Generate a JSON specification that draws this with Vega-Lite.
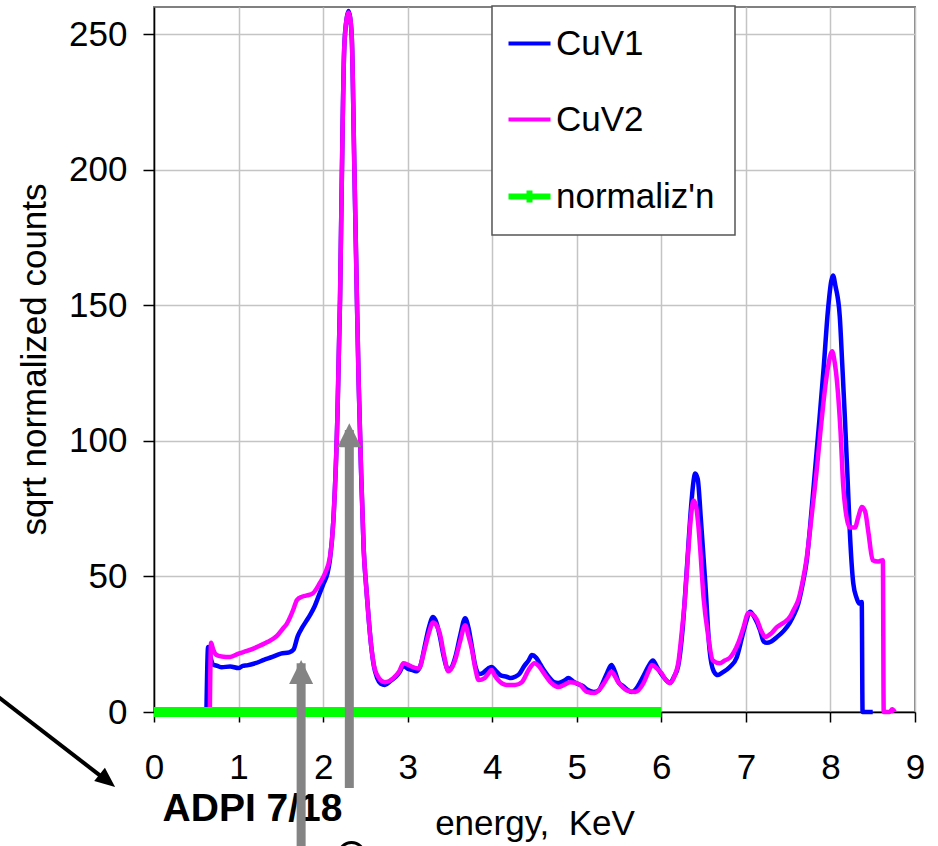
{
  "$schema": "https://vega.github.io/schema/vega-lite/v6.json",
  "width": 761,
  "height": 705,
  "autosize": {"type": "none"},
  "padding": {"left": 154, "top": 7, "right": 23, "bottom": 134},
  "background": "white",
  "config": {
    "font": "Liberation Sans",
    "view": {"stroke": "#808080", "strokeWidth": 2},
    "axis": {
      "labelFont": "Liberation Sans",
      "titleFont": "Liberation Sans",
      "labelFontSize": 35,
      "titleFontSize": 35,
      "labelColor": "black",
      "titleColor": "black",
      "titleFontWeight": "normal",
      "domainColor": "black",
      "domainWidth": 1.5,
      "tickColor": "black",
      "tickWidth": 1.5,
      "gridColor": "#c4c4c4",
      "gridWidth": 1.5,
      "gridOpacity": 1,
      "labelFlush": false
    },
    "legend": {
      "labelFont": "Liberation Sans",
      "labelFontSize": 35,
      "labelColor": "black"
    }
  },
  "datasets": {
    "cuv1": [
      {"E":0.62,"v":0,"series":"CuV1"},{"E":0.64,"v":24,"series":"CuV1"},{"E":0.67,"v":20,"series":"CuV1"},{"E":0.70,"v":17.5,"series":"CuV1"},{"E":0.75,"v":17,"series":"CuV1"},{"E":0.80,"v":16.5,"series":"CuV1"},{"E":0.90,"v":16.8,"series":"CuV1"},{"E":1.00,"v":16.2,"series":"CuV1"},{"E":1.05,"v":17,"series":"CuV1"},{"E":1.10,"v":17.2,"series":"CuV1"},{"E":1.20,"v":18,"series":"CuV1"},{"E":1.30,"v":19.2,"series":"CuV1"},{"E":1.40,"v":20.3,"series":"CuV1"},{"E":1.50,"v":21.5,"series":"CuV1"},{"E":1.60,"v":22,"series":"CuV1"},{"E":1.65,"v":23,"series":"CuV1"},{"E":1.70,"v":28,"series":"CuV1"},{"E":1.75,"v":31,"series":"CuV1"},{"E":1.80,"v":33.5,"series":"CuV1"},{"E":1.85,"v":36,"series":"CuV1"},{"E":1.90,"v":39,"series":"CuV1"},{"E":1.95,"v":43,"series":"CuV1"},{"E":2.00,"v":47,"series":"CuV1"},{"E":2.05,"v":51,"series":"CuV1"},{"E":2.08,"v":56,"series":"CuV1"},{"E":2.12,"v":70,"series":"CuV1"},{"E":2.17,"v":110,"series":"CuV1"},{"E":2.20,"v":152,"series":"CuV1"},{"E":2.23,"v":215,"series":"CuV1"},{"E":2.25,"v":245,"series":"CuV1"},{"E":2.28,"v":256,"series":"CuV1"},{"E":2.30,"v":258.5,"series":"CuV1"},{"E":2.32,"v":256,"series":"CuV1"},{"E":2.34,"v":248,"series":"CuV1"},{"E":2.37,"v":200,"series":"CuV1"},{"E":2.40,"v":152,"series":"CuV1"},{"E":2.42,"v":122,"series":"CuV1"},{"E":2.45,"v":88,"series":"CuV1"},{"E":2.48,"v":60,"series":"CuV1"},{"E":2.51,"v":46,"series":"CuV1"},{"E":2.54,"v":34,"series":"CuV1"},{"E":2.57,"v":24,"series":"CuV1"},{"E":2.60,"v":17,"series":"CuV1"},{"E":2.64,"v":12.5,"series":"CuV1"},{"E":2.68,"v":10.5,"series":"CuV1"},{"E":2.73,"v":10,"series":"CuV1"},{"E":2.80,"v":11.5,"series":"CuV1"},{"E":2.86,"v":13,"series":"CuV1"},{"E":2.90,"v":14.5,"series":"CuV1"},{"E":2.95,"v":17,"series":"CuV1"},{"E":3.00,"v":16,"series":"CuV1"},{"E":3.05,"v":15.5,"series":"CuV1"},{"E":3.10,"v":15,"series":"CuV1"},{"E":3.15,"v":17,"series":"CuV1"},{"E":3.20,"v":24,"series":"CuV1"},{"E":3.25,"v":31,"series":"CuV1"},{"E":3.30,"v":35,"series":"CuV1"},{"E":3.34,"v":33,"series":"CuV1"},{"E":3.38,"v":28,"series":"CuV1"},{"E":3.43,"v":20,"series":"CuV1"},{"E":3.48,"v":15.5,"series":"CuV1"},{"E":3.52,"v":16.5,"series":"CuV1"},{"E":3.57,"v":21,"series":"CuV1"},{"E":3.62,"v":28,"series":"CuV1"},{"E":3.68,"v":34.6,"series":"CuV1"},{"E":3.72,"v":31,"series":"CuV1"},{"E":3.76,"v":24,"series":"CuV1"},{"E":3.80,"v":17,"series":"CuV1"},{"E":3.84,"v":14,"series":"CuV1"},{"E":3.89,"v":14.4,"series":"CuV1"},{"E":3.95,"v":16,"series":"CuV1"},{"E":3.99,"v":16.6,"series":"CuV1"},{"E":4.05,"v":15,"series":"CuV1"},{"E":4.10,"v":13.5,"series":"CuV1"},{"E":4.17,"v":13,"series":"CuV1"},{"E":4.22,"v":12.5,"series":"CuV1"},{"E":4.27,"v":13,"series":"CuV1"},{"E":4.32,"v":14,"series":"CuV1"},{"E":4.38,"v":17,"series":"CuV1"},{"E":4.43,"v":19,"series":"CuV1"},{"E":4.47,"v":21,"series":"CuV1"},{"E":4.52,"v":20,"series":"CuV1"},{"E":4.57,"v":17.5,"series":"CuV1"},{"E":4.62,"v":15,"series":"CuV1"},{"E":4.68,"v":12.5,"series":"CuV1"},{"E":4.73,"v":11,"series":"CuV1"},{"E":4.78,"v":10.7,"series":"CuV1"},{"E":4.85,"v":11.5,"series":"CuV1"},{"E":4.90,"v":12.5,"series":"CuV1"},{"E":4.95,"v":11.5,"series":"CuV1"},{"E":5.00,"v":10.5,"series":"CuV1"},{"E":5.07,"v":9.6,"series":"CuV1"},{"E":5.12,"v":8.3,"series":"CuV1"},{"E":5.20,"v":7.4,"series":"CuV1"},{"E":5.26,"v":8,"series":"CuV1"},{"E":5.31,"v":11,"series":"CuV1"},{"E":5.36,"v":14.5,"series":"CuV1"},{"E":5.41,"v":17.3,"series":"CuV1"},{"E":5.45,"v":15,"series":"CuV1"},{"E":5.50,"v":10.7,"series":"CuV1"},{"E":5.55,"v":9.5,"series":"CuV1"},{"E":5.60,"v":8.2,"series":"CuV1"},{"E":5.65,"v":7.4,"series":"CuV1"},{"E":5.70,"v":8.5,"series":"CuV1"},{"E":5.75,"v":11,"series":"CuV1"},{"E":5.80,"v":14,"series":"CuV1"},{"E":5.85,"v":17,"series":"CuV1"},{"E":5.90,"v":19,"series":"CuV1"},{"E":5.95,"v":16.5,"series":"CuV1"},{"E":6.00,"v":14,"series":"CuV1"},{"E":6.05,"v":12,"series":"CuV1"},{"E":6.10,"v":10.7,"series":"CuV1"},{"E":6.15,"v":13,"series":"CuV1"},{"E":6.20,"v":17,"series":"CuV1"},{"E":6.25,"v":30,"series":"CuV1"},{"E":6.30,"v":52,"series":"CuV1"},{"E":6.35,"v":75,"series":"CuV1"},{"E":6.38,"v":85,"series":"CuV1"},{"E":6.40,"v":88,"series":"CuV1"},{"E":6.43,"v":86,"series":"CuV1"},{"E":6.47,"v":70,"series":"CuV1"},{"E":6.52,"v":47.5,"series":"CuV1"},{"E":6.57,"v":23,"series":"CuV1"},{"E":6.62,"v":15,"series":"CuV1"},{"E":6.67,"v":13.6,"series":"CuV1"},{"E":6.72,"v":14.5,"series":"CuV1"},{"E":6.81,"v":16.6,"series":"CuV1"},{"E":6.89,"v":20,"series":"CuV1"},{"E":6.95,"v":27,"series":"CuV1"},{"E":7.00,"v":33,"series":"CuV1"},{"E":7.05,"v":37,"series":"CuV1"},{"E":7.10,"v":35,"series":"CuV1"},{"E":7.17,"v":30,"series":"CuV1"},{"E":7.21,"v":26,"series":"CuV1"},{"E":7.25,"v":25.5,"series":"CuV1"},{"E":7.30,"v":26,"series":"CuV1"},{"E":7.37,"v":27.7,"series":"CuV1"},{"E":7.45,"v":30,"series":"CuV1"},{"E":7.52,"v":33,"series":"CuV1"},{"E":7.57,"v":36,"series":"CuV1"},{"E":7.62,"v":40,"series":"CuV1"},{"E":7.67,"v":47,"series":"CuV1"},{"E":7.72,"v":56,"series":"CuV1"},{"E":7.77,"v":72,"series":"CuV1"},{"E":7.82,"v":90,"series":"CuV1"},{"E":7.87,"v":108,"series":"CuV1"},{"E":7.92,"v":127,"series":"CuV1"},{"E":7.97,"v":148,"series":"CuV1"},{"E":8.01,"v":159,"series":"CuV1"},{"E":8.03,"v":161,"series":"CuV1"},{"E":8.06,"v":157,"series":"CuV1"},{"E":8.11,"v":146,"series":"CuV1"},{"E":8.14,"v":128,"series":"CuV1"},{"E":8.17,"v":109,"series":"CuV1"},{"E":8.20,"v":88,"series":"CuV1"},{"E":8.23,"v":66,"series":"CuV1"},{"E":8.27,"v":47.5,"series":"CuV1"},{"E":8.31,"v":42,"series":"CuV1"},{"E":8.34,"v":40,"series":"CuV1"},{"E":8.37,"v":40.6,"series":"CuV1"},{"E":8.38,"v":0,"series":"CuV1"},{"E":8.50,"v":0,"series":"CuV1"}
    ],
    "cuv2": [
      {"E":0.66,"v":0,"series":"CuV2"},{"E":0.675,"v":25.5,"series":"CuV2"},{"E":0.70,"v":23,"series":"CuV2"},{"E":0.74,"v":21,"series":"CuV2"},{"E":0.80,"v":20.5,"series":"CuV2"},{"E":0.90,"v":20.3,"series":"CuV2"},{"E":1.00,"v":21.5,"series":"CuV2"},{"E":1.10,"v":22.5,"series":"CuV2"},{"E":1.22,"v":24,"series":"CuV2"},{"E":1.34,"v":25.8,"series":"CuV2"},{"E":1.45,"v":28,"series":"CuV2"},{"E":1.53,"v":31,"series":"CuV2"},{"E":1.57,"v":32.5,"series":"CuV2"},{"E":1.61,"v":35,"series":"CuV2"},{"E":1.65,"v":38,"series":"CuV2"},{"E":1.69,"v":41.3,"series":"CuV2"},{"E":1.75,"v":42.5,"series":"CuV2"},{"E":1.81,"v":43,"series":"CuV2"},{"E":1.88,"v":43.8,"series":"CuV2"},{"E":1.96,"v":47.5,"series":"CuV2"},{"E":2.02,"v":51,"series":"CuV2"},{"E":2.08,"v":57,"series":"CuV2"},{"E":2.12,"v":70,"series":"CuV2"},{"E":2.17,"v":110,"series":"CuV2"},{"E":2.20,"v":152,"series":"CuV2"},{"E":2.23,"v":215,"series":"CuV2"},{"E":2.25,"v":245,"series":"CuV2"},{"E":2.28,"v":256,"series":"CuV2"},{"E":2.30,"v":258,"series":"CuV2"},{"E":2.32,"v":256,"series":"CuV2"},{"E":2.34,"v":248,"series":"CuV2"},{"E":2.37,"v":200,"series":"CuV2"},{"E":2.40,"v":152,"series":"CuV2"},{"E":2.42,"v":122,"series":"CuV2"},{"E":2.45,"v":88,"series":"CuV2"},{"E":2.48,"v":60,"series":"CuV2"},{"E":2.51,"v":46,"series":"CuV2"},{"E":2.54,"v":34,"series":"CuV2"},{"E":2.57,"v":24,"series":"CuV2"},{"E":2.60,"v":17.5,"series":"CuV2"},{"E":2.65,"v":13,"series":"CuV2"},{"E":2.73,"v":11,"series":"CuV2"},{"E":2.83,"v":12.5,"series":"CuV2"},{"E":2.90,"v":15,"series":"CuV2"},{"E":2.95,"v":18,"series":"CuV2"},{"E":3.00,"v":17.5,"series":"CuV2"},{"E":3.05,"v":16.7,"series":"CuV2"},{"E":3.13,"v":16,"series":"CuV2"},{"E":3.20,"v":23,"series":"CuV2"},{"E":3.25,"v":29,"series":"CuV2"},{"E":3.30,"v":33,"series":"CuV2"},{"E":3.34,"v":32,"series":"CuV2"},{"E":3.38,"v":29,"series":"CuV2"},{"E":3.43,"v":21,"series":"CuV2"},{"E":3.48,"v":15,"series":"CuV2"},{"E":3.56,"v":19,"series":"CuV2"},{"E":3.62,"v":26,"series":"CuV2"},{"E":3.68,"v":32,"series":"CuV2"},{"E":3.72,"v":28,"series":"CuV2"},{"E":3.76,"v":23,"series":"CuV2"},{"E":3.80,"v":16,"series":"CuV2"},{"E":3.84,"v":11.8,"series":"CuV2"},{"E":3.91,"v":12.5,"series":"CuV2"},{"E":3.95,"v":14,"series":"CuV2"},{"E":3.99,"v":15.5,"series":"CuV2"},{"E":4.03,"v":13.5,"series":"CuV2"},{"E":4.07,"v":11.8,"series":"CuV2"},{"E":4.17,"v":10,"series":"CuV2"},{"E":4.27,"v":10,"series":"CuV2"},{"E":4.35,"v":11,"series":"CuV2"},{"E":4.43,"v":15.5,"series":"CuV2"},{"E":4.50,"v":18,"series":"CuV2"},{"E":4.55,"v":17,"series":"CuV2"},{"E":4.60,"v":14.8,"series":"CuV2"},{"E":4.70,"v":10.7,"series":"CuV2"},{"E":4.78,"v":9.2,"series":"CuV2"},{"E":4.85,"v":10,"series":"CuV2"},{"E":4.92,"v":11,"series":"CuV2"},{"E":4.98,"v":10.8,"series":"CuV2"},{"E":5.04,"v":10,"series":"CuV2"},{"E":5.12,"v":7.4,"series":"CuV2"},{"E":5.21,"v":7,"series":"CuV2"},{"E":5.31,"v":10,"series":"CuV2"},{"E":5.36,"v":12.5,"series":"CuV2"},{"E":5.41,"v":14.8,"series":"CuV2"},{"E":5.49,"v":11,"series":"CuV2"},{"E":5.59,"v":8,"series":"CuV2"},{"E":5.69,"v":7.4,"series":"CuV2"},{"E":5.79,"v":10.7,"series":"CuV2"},{"E":5.85,"v":15,"series":"CuV2"},{"E":5.89,"v":17.3,"series":"CuV2"},{"E":5.95,"v":16,"series":"CuV2"},{"E":6.00,"v":14.4,"series":"CuV2"},{"E":6.05,"v":12,"series":"CuV2"},{"E":6.10,"v":10.7,"series":"CuV2"},{"E":6.16,"v":13.6,"series":"CuV2"},{"E":6.20,"v":18,"series":"CuV2"},{"E":6.24,"v":29,"series":"CuV2"},{"E":6.28,"v":42,"series":"CuV2"},{"E":6.32,"v":60,"series":"CuV2"},{"E":6.35,"v":72,"series":"CuV2"},{"E":6.38,"v":78,"series":"CuV2"},{"E":6.41,"v":76,"series":"CuV2"},{"E":6.44,"v":68,"series":"CuV2"},{"E":6.46,"v":60,"series":"CuV2"},{"E":6.50,"v":42,"series":"CuV2"},{"E":6.55,"v":29,"series":"CuV2"},{"E":6.61,"v":19,"series":"CuV2"},{"E":6.69,"v":18,"series":"CuV2"},{"E":6.75,"v":19,"series":"CuV2"},{"E":6.81,"v":20,"series":"CuV2"},{"E":6.91,"v":25.5,"series":"CuV2"},{"E":6.97,"v":31,"series":"CuV2"},{"E":7.03,"v":36.5,"series":"CuV2"},{"E":7.08,"v":36,"series":"CuV2"},{"E":7.13,"v":34,"series":"CuV2"},{"E":7.18,"v":30,"series":"CuV2"},{"E":7.23,"v":27.7,"series":"CuV2"},{"E":7.30,"v":29,"series":"CuV2"},{"E":7.37,"v":31.4,"series":"CuV2"},{"E":7.45,"v":33,"series":"CuV2"},{"E":7.52,"v":35,"series":"CuV2"},{"E":7.57,"v":38,"series":"CuV2"},{"E":7.62,"v":41.3,"series":"CuV2"},{"E":7.67,"v":48,"series":"CuV2"},{"E":7.72,"v":57,"series":"CuV2"},{"E":7.78,"v":73,"series":"CuV2"},{"E":7.84,"v":90,"series":"CuV2"},{"E":7.88,"v":103,"series":"CuV2"},{"E":7.92,"v":115,"series":"CuV2"},{"E":7.97,"v":127,"series":"CuV2"},{"E":8.02,"v":133,"series":"CuV2"},{"E":8.05,"v":129,"series":"CuV2"},{"E":8.08,"v":121,"series":"CuV2"},{"E":8.12,"v":103,"series":"CuV2"},{"E":8.15,"v":84,"series":"CuV2"},{"E":8.19,"v":72,"series":"CuV2"},{"E":8.23,"v":68,"series":"CuV2"},{"E":8.29,"v":68,"series":"CuV2"},{"E":8.33,"v":72,"series":"CuV2"},{"E":8.37,"v":75.6,"series":"CuV2"},{"E":8.41,"v":74,"series":"CuV2"},{"E":8.45,"v":66,"series":"CuV2"},{"E":8.50,"v":56,"series":"CuV2"},{"E":8.56,"v":55.5,"series":"CuV2"},{"E":8.62,"v":56,"series":"CuV2"},{"E":8.63,"v":0,"series":"CuV2"},{"E":8.70,"v":0,"series":"CuV2"},{"E":8.73,"v":1,"series":"CuV2"},{"E":8.76,"v":0,"series":"CuV2"}
    ],
    "norm": [
      {"E":0,"v":0,"series":"normaliz'n"},{"E":6.0,"v":0,"series":"normaliz'n"}
    ],
    "grayArrows": [
      {"x":1.74,"y":-50,"y2":18,"tip":14.75},
      {"x":2.31,"y":-28,"y2":104,"tip":102.1}
    ],
    "blackArrow": [
      {"x":-1.95,"y":8.2,"x2":-0.56,"y2":-25.3}
    ],
    "blackHead": [
      {"x":-0.552,"y":-25.3}
    ],
    "label": [
      {"x":1.165,"y":-40.2,"text":"ADPI 7/18"}
    ],
    "ring": [
      {"x":2.336,"y":-52.7}
    ]
  },
  "layer": [
    {
      "data": {"name": "cuv1"},
      "mark": {"type": "line", "strokeWidth": 4.5, "clip": false, "interpolate": "monotone"},
      "encoding": {
        "x": {
          "field": "E", "type": "quantitative",
          "scale": {"domain": [0, 9], "nice": false, "zero": false},
          "axis": {
            "values": [0,1,2,3,4,5,6,7,8,9],
            "format": "d",
            "tickSize": 10,
            "labelPadding": 28,
            "labelFlush": false,
            "title": "energy,\u00a0\u00a0KeV",
            "titleBaseline": "alphabetic",
            "titleY": 122,
            "grid": true
          }
        },
        "y": {
          "field": "v", "type": "quantitative",
          "scale": {"domain": [0, 260], "nice": false, "zero": true},
          "axis": {
            "values": [0,50,100,150,200,250],
            "format": "d",
            "tickSize": 11,
            "labelPadding": 16,
            "title": "sqrt normalized counts",
            "titleX": -120,
            "titleY": 352,
            "titleAngle": -90,
            "titleAlign": "center",
            "titleBaseline": "middle",
            "grid": true
          }
        },
        "color": {
          "field": "series", "type": "nominal",
          "scale": {"domain": ["CuV1", "CuV2", "normaliz'n"], "range": ["#0000ff", "#ff00ff", "#00ff00"]},
          "legend": {
            "title": null,
            "orient": "none",
            "legendX": 338,
            "legendY": -1,
            "padding": 20,
            "symbolType": "stroke",
            "symbolSize": 1764,
            "symbolStrokeWidth": 4,
            "labelOffset": 9,
            "rowPadding": 40,
            "strokeColor": "#555555",
            "fillColor": "white",
            "encode": {
              "legend": {"update": {"strokeWidth": {"value": 1.5}}},
              "symbols": {"update": {
                "shape": {"signal": "datum.value === \"normaliz'n\" ? 'M-1,0L1,0M0,-0.28L0,0.28' : 'stroke'"},
                "strokeWidth": {"signal": "datum.value === \"normaliz'n\" ? 6 : 4"}
              }}
            }
          }
        }
      }
    },
    {
      "data": {"name": "cuv2"},
      "mark": {"type": "line", "strokeWidth": 4.5, "clip": false, "interpolate": "monotone"},
      "encoding": {
        "x": {"field": "E", "type": "quantitative"},
        "y": {"field": "v", "type": "quantitative"},
        "color": {"field": "series", "type": "nominal"}
      }
    },
    {
      "data": {"name": "norm"},
      "mark": {"type": "line", "strokeWidth": 10, "clip": false},
      "encoding": {
        "x": {"field": "E", "type": "quantitative"},
        "y": {"field": "v", "type": "quantitative"},
        "color": {"field": "series", "type": "nominal"}
      }
    },
    {
      "data": {"name": "label"},
      "mark": {"type": "text", "font": "Liberation Sans", "fontSize": 39, "fontWeight": "bold", "align": "center", "baseline": "alphabetic", "color": "black"},
      "encoding": {
        "x": {"field": "x", "type": "quantitative"},
        "y": {"field": "y", "type": "quantitative"},
        "text": {"field": "text"}
      }
    },
    {
      "data": {"name": "grayArrows"},
      "mark": {"type": "rule", "strokeWidth": 9, "color": "#848484"},
      "encoding": {
        "x": {"field": "x", "type": "quantitative"},
        "y": {"field": "y", "type": "quantitative"},
        "y2": {"field": "y2"}
      }
    },
    {
      "data": {"name": "grayArrows"},
      "mark": {"type": "point", "shape": "M0,-1L-1,1L1,1Z", "size": 576, "filled": true, "color": "#848484", "opacity": 1},
      "encoding": {
        "x": {"field": "x", "type": "quantitative"},
        "y": {"field": "tip", "type": "quantitative"}
      }
    },
    {
      "data": {"name": "blackArrow"},
      "mark": {"type": "rule", "strokeWidth": 4, "color": "black"},
      "encoding": {
        "x": {"field": "x", "type": "quantitative"},
        "y": {"field": "y", "type": "quantitative"},
        "x2": {"field": "x2"},
        "y2": {"field": "y2"}
      }
    },
    {
      "data": {"name": "blackHead"},
      "mark": {"type": "point", "shape": "M0,-1L-0.85,1L0.85,1Z", "size": 400, "filled": true, "color": "black", "opacity": 1, "angle": 129},
      "encoding": {
        "x": {"field": "x", "type": "quantitative"},
        "y": {"field": "y", "type": "quantitative"}
      }
    },
    {
      "data": {"name": "ring"},
      "mark": {"type": "point", "shape": "circle", "size": 625, "filled": false, "stroke": "black", "strokeWidth": 3, "opacity": 1},
      "encoding": {
        "x": {"field": "x", "type": "quantitative"},
        "y": {"field": "y", "type": "quantitative"}
      }
    }
  ]
}
